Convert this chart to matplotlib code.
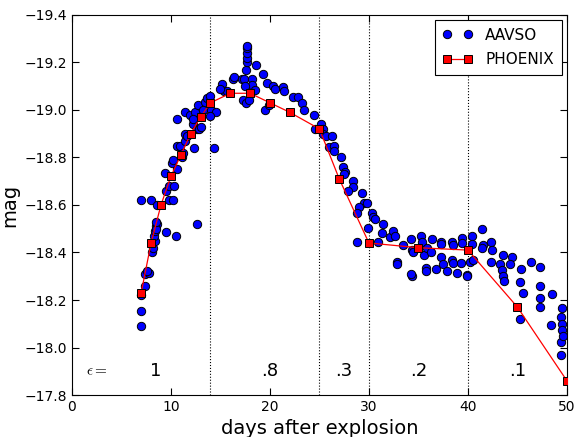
"""Light curve: AAVSO photometry vs PHOENIX model magnitudes."""

import matplotlib
matplotlib.use("Agg")
import matplotlib.pyplot as plt

# AAVSO observations (days after explosion, absolute magnitude)
aavso_days = [
    6.94, 6.94, 7.0, 7.34, 7.37, 7.81, 7.6, 8.08, 8.2, 8.38, 8.3, 8.4, 8.48, 8.55,
    8.45, 8.5, 9.5, 10.5, 12.66, 6.94, 8.0, 8.6, 9.83, 10.2, 9.5, 9.83, 10.3, 9.4,
    10.57, 10.07, 10.2, 11.08, 10.57, 10.9, 11.2, 11.4, 11.4, 11.6, 12.36, 10.57,
    11.4, 11.9, 12.4, 12.76, 12.25, 12.6, 14.34, 12.86, 12.25, 13.27, 13.43, 13.6,
    14.0, 14.1, 14.6, 13.94, 13.0, 15.2, 15.35, 15.7, 16.3, 16.36, 14.95, 17.3,
    17.6, 17.9, 17.14, 17.37, 17.54, 17.64, 17.64, 17.64, 17.64, 17.64, 18.6,
    18.15, 18.24, 18.5, 17.5, 19.3, 19.66, 20.33, 20.5, 21.35, 21.45, 22.35, 22.8,
    23.2, 23.47, 24.5, 19.5, 19.9, 24.55, 25.2, 25.4, 25.4, 25.7, 26.3, 26.0,
    26.46, 26.46, 27.2, 27.4, 27.6, 27.5, 28.35, 28.4, 27.9, 29.26, 29.5, 29.76,
    29.0, 28.75, 30.27, 30.4, 30.6, 29.93, 31.4, 31.3, 28.8, 30.94, 32.1, 32.46,
    32.6, 33.4, 32.8, 32.86, 34.3, 34.4, 34.5, 34.34, 34.3, 35.3, 35.4, 35.55,
    35.9, 36.3, 36.4, 35.8, 35.8, 36.8, 37.3, 37.3, 37.3, 37.5, 37.9, 38.35,
    38.45, 38.35, 38.45, 38.85, 39.26, 39.36, 39.36, 39.87, 39.87, 40.37, 40.37,
    40.2, 40.5, 41.38, 41.5, 41.38, 42.3, 42.4, 42.3, 43.5, 43.2, 43.4, 43.57,
    43.6, 44.44, 44.2, 45.4, 45.25, 45.6, 46.4, 47.3, 47.3, 47.3, 47.3, 48.45,
    45.3, 48.4, 49.5, 49.4, 49.5, 49.5, 49.4, 49.4, 49.6,
]
aavso_mag = [
    -18.09, -18.155, -18.22, -18.26, -18.31, -18.315, -18.32, -18.40, -18.42,
    -18.45, -18.47, -18.49, -18.51, -18.52, -18.50, -18.53, -18.485, -18.47,
    -18.52, -18.62, -18.62, -18.60, -18.62, -18.62, -18.66, -18.68, -18.68,
    -18.735, -18.75, -18.775, -18.79, -18.80, -18.85, -18.85, -18.82, -18.87,
    -18.90, -18.89, -18.84, -18.96, -18.99, -18.98, -18.99, -19.02, -18.94,
    -18.92, -18.84, -18.92, -18.96, -19.00, -19.035, -19.05, -19.06, -19.00,
    -18.99, -18.975, -18.93, -19.11, -19.08, -19.08, -19.13, -19.14, -19.09,
    -19.04, -19.03, -19.04, -19.13, -19.13, -19.17, -19.20, -19.22, -19.24,
    -19.26, -19.27, -19.19, -19.13, -19.105, -19.085, -19.10, -19.15, -19.115,
    -19.10, -19.09, -19.095, -19.08, -19.055, -19.055, -19.03, -19.00, -18.98,
    -19.00, -19.02, -18.92, -18.94, -18.92, -18.90, -18.89, -18.89, -18.845,
    -18.85, -18.825, -18.80, -18.76, -18.74, -18.73, -18.70, -18.675, -18.66,
    -18.65, -18.61, -18.61, -18.59, -18.565, -18.565, -18.55, -18.54, -18.505,
    -18.52, -18.48, -18.445, -18.445, -18.465, -18.49, -18.47, -18.43, -18.36,
    -18.35, -18.455, -18.41, -18.40, -18.30, -18.31, -18.47, -18.445, -18.39,
    -18.42, -18.40, -18.455, -18.335, -18.32, -18.33, -18.445, -18.435, -18.38,
    -18.35, -18.32, -18.445, -18.43, -18.37, -18.355, -18.315, -18.355, -18.46,
    -18.44, -18.305, -18.30, -18.47, -18.435, -18.36, -18.37, -18.50, -18.43,
    -18.42, -18.445, -18.41, -18.36, -18.39, -18.35, -18.325, -18.30, -18.28,
    -18.38, -18.35, -18.33, -18.277, -18.23, -18.36, -18.34, -18.26, -18.21,
    -18.17, -18.225, -18.12, -18.095, -18.165, -18.13, -18.10, -18.075, -18.025,
    -17.97, -18.05,
]

# PHOENIX model light curve
phoenix_days = [7, 8, 9, 10, 11, 12, 13, 14, 16, 18, 20, 22, 25, 27, 30, 35, 40, 45, 50]
phoenix_mag = [
    -18.23, -18.44, -18.60, -18.72, -18.81, -18.90, -18.97, -19.03, -19.07,
    -19.07, -19.03, -18.99, -18.92, -18.71, -18.44, -18.42, -18.41, -18.17, -17.86,
]

# epsilon regimes
boundaries = [14, 25, 30, 40]
eps_pos = [8.5, 20, 27.5, 35, 45]
eps_labels = ["1", ".8", ".3", ".2", ".1"]

fig = plt.figure(figsize=(5.75, 4.37), dpi=100)
ax = fig.add_axes([0.125, 0.096, 0.861, 0.870])

ax.plot(aavso_days, aavso_mag, "o", color="blue", mec="black", mew=0.7,
        ms=6, label="AAVSO", zorder=2)
ax.plot(phoenix_days, phoenix_mag, "s-", color="red", mfc="red", mec="black",
        mew=0.7, ms=5.5, lw=0.9, label="PHOENIX", zorder=3)

for b in boundaries:
    ax.axvline(b, color="black", ls=":", lw=0.8, zorder=1)

ax.text(2.5, -17.9, r"$\epsilon =$", fontsize=11, ha="center", va="center",
        math_fontfamily="cm")
for x, lab in zip(eps_pos, eps_labels):
    ax.text(x, -17.9, lab, fontsize=13, ha="center", va="center")

ax.set_xlim(0, 50)
ax.set_ylim(-17.8, -19.4)
ax.set_xticks(range(0, 51, 10))
ax.set_yticks([-19.4 + 0.2 * i for i in range(9)])
ax.set_yticklabels([f"{-19.4 + 0.2 * i:.1f}".replace("-", "\u2212") for i in range(9)])
ax.tick_params(direction="in", top=True, right=True, length=5, labelsize=10)
ax.set_xlabel("days after explosion", fontsize=14)
ax.set_ylabel("mag", fontsize=14)

leg = ax.legend(loc="upper right", numpoints=2, fontsize=11, fancybox=False,
                framealpha=1, edgecolor="black", borderpad=0.5,
                labelspacing=0.6, borderaxespad=0.35)
leg.get_frame().set_linewidth(0.8)

fig.savefig("out.png", dpi=100)
